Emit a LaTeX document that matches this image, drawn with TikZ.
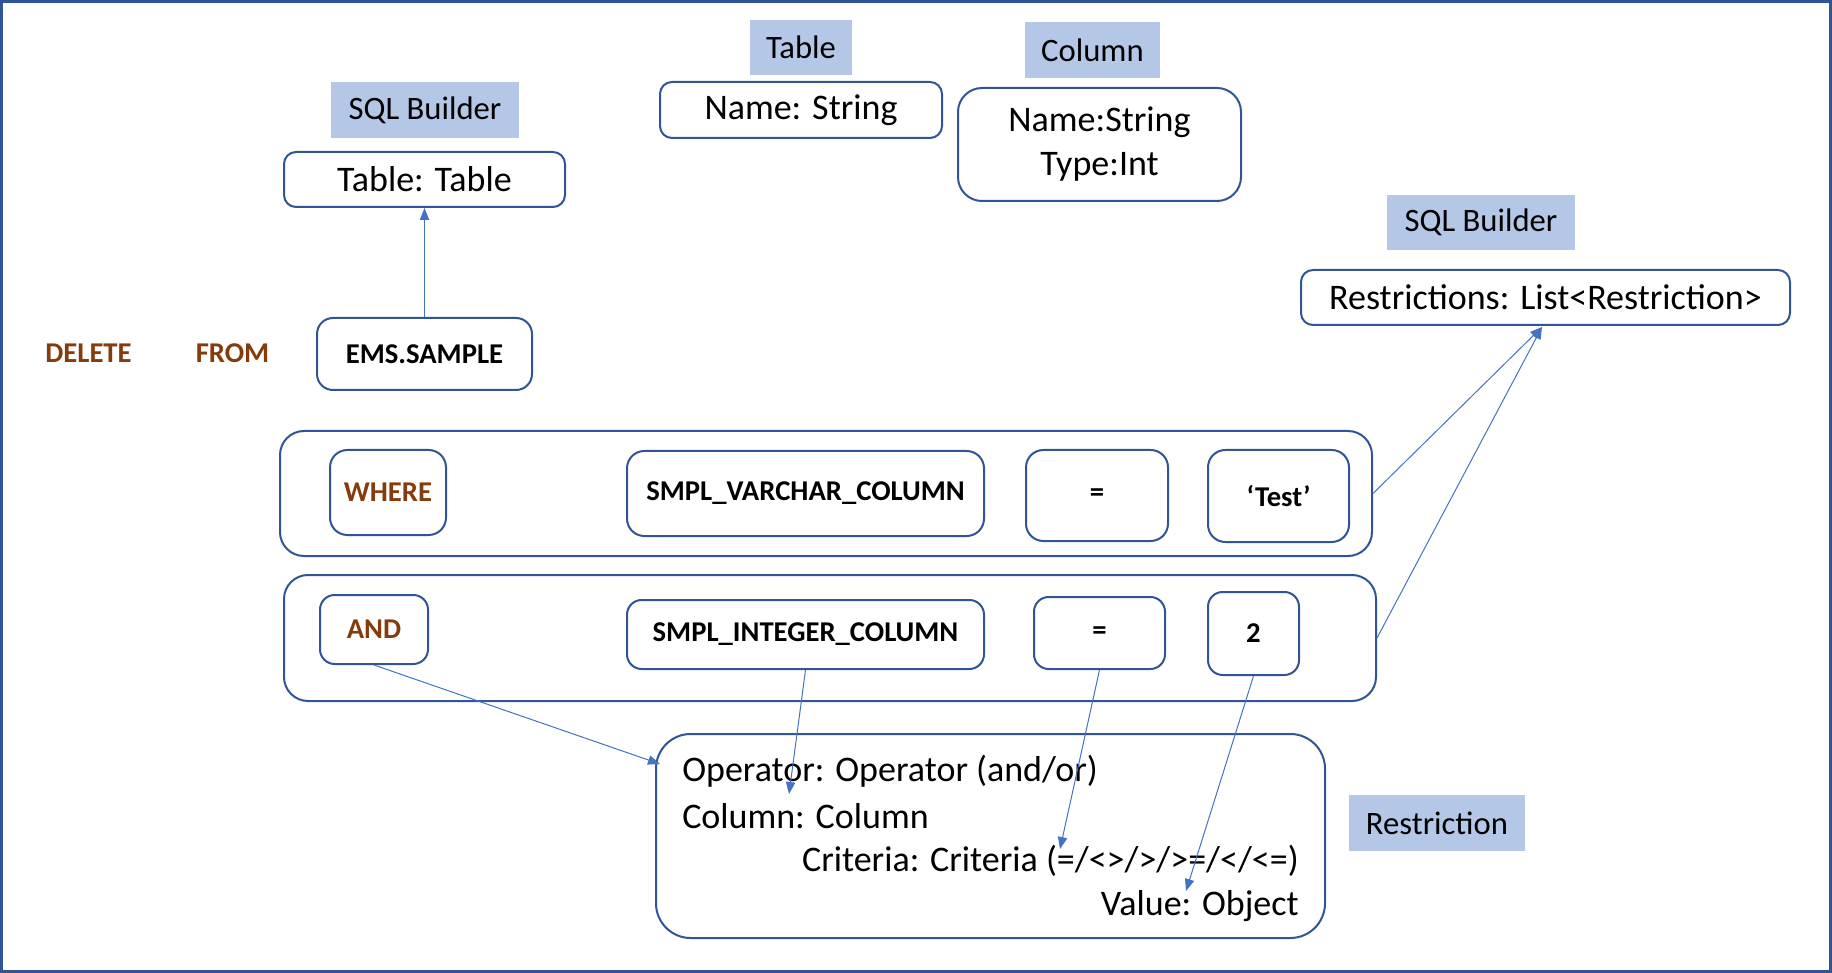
\documentclass[tikz,border=0pt]{standalone}
\usepackage{fontspec}
\setmainfont{Carlito}
\usetikzlibrary{arrows.meta}
\definecolor{boxblue}{HTML}{2F5597}
\definecolor{lblfill}{HTML}{B4C7E7}
\definecolor{arrblue}{HTML}{4472C4}
\definecolor{kw}{HTML}{843C0C}
\begin{document}
\begin{tikzpicture}[x=0.75pt,y=-0.75pt,
  wh/.style 2 args={minimum width=#1*0.75pt, minimum height=#2*0.75pt},
  box/.style={draw=boxblue, line width=1.5pt, rounded corners=9pt, inner sep=0pt, align=center},
  lbl/.style={fill=lblfill, inner sep=0pt, font=\fontsize{24.5}{29}\selectfont},
  big/.style={font=\fontsize{27}{33}\selectfont},
  sm/.style={font=\bfseries\fontsize{21.5}{25}\selectfont},
  kwtext/.style={sm, text=kw},
  link/.style={draw=arrblue, line width=0.75pt, -{Triangle[length=9pt,width=7pt]}}
]
\useasboundingbox (0,0) rectangle (1832,973);
\draw[boxblue, line width=2pt] (1.5,1.5) rectangle (1830.5,971.5);

% labels
\node[lbl, wh={102}{55}] (lblTable) at (801,47.5) {Table};
\node[lbl, wh={188}{56}] (lblSB1) at (425,110) {SQL Builder};
\node[lbl, wh={135}{56}] (lblColumn) at (1092.5,50) {Column};
\node[lbl, wh={188}{55}] (lblSB2) at (1481,222.5) {SQL Builder};
\node[lbl, wh={176}{56}] (lblRestr) at (1437,823) {Restriction};

% top boxes
\node[box, big, wh={281}{55}] (tableBox) at (424.5,179.5) {Table: Table};
\node[box, big, wh={282}{56}] (nameBox) at (801,110) {Name: String};
\node[box, big, wh={283}{113}, rounded corners=18pt] (colBox) at (1099.5,144.5) {Name:String\\Type:Int};
\node[box, big, wh={489}{55}] (restrBox) at (1545.5,297.5) {Restrictions: List<Restriction>};

% DELETE FROM
\node[kwtext] (delTxt) at (88.5,353) {DELETE};
\node[kwtext] (fromTxt) at (232.5,353) {FROM};
\node[box, sm, wh={215}{72}, rounded corners=12pt] (emsBox) at (424.5,354) {EMS.SAMPLE};

% WHERE row
\node[box, wh={1092}{125}, rounded corners=18pt] (whereCont) at (826,493.5) {};
\node[box, kwtext, wh={116}{85}, rounded corners=13pt] (whereBox) at (388,492.5) {WHERE};
\node[box, sm, wh={357}{85}, rounded corners=13pt] (varBox) at (805.5,493.5) {SMPL\_VARCHAR\_COLUMN};
\node[box, sm, wh={142}{91}, rounded corners=13pt] (eq1Box) at (1097,495.5) {=};
\node[box, sm, wh={141}{92}, rounded corners=13pt] (testBox) at (1278.5,496) {‘Test’};

% AND row
\node[box, wh={1092}{126}, rounded corners=18pt] (andCont) at (830,638) {};
\node[box, kwtext, wh={108}{69}, rounded corners=11pt] (andBox) at (374,629.5) {AND};
\node[box, sm, wh={357}{69}, rounded corners=11pt] (intBox) at (805.5,634.5) {SMPL\_INTEGER\_COLUMN};
\node[box, sm, wh={131}{72}, rounded corners=11pt] (eq2Box) at (1099.5,633) {=};
\node[box, sm, wh={91}{83}, rounded corners=11pt] (twoBox) at (1253.5,633.5) {2};

% Restriction box
\node[box, wh={669}{204}, rounded corners=26pt] (resBox) at (990.5,836) {};
\node[big, anchor=west, inner sep=0pt] (opTxt) at (682,771) {Operator: Operator (and/or)};
\node[big, anchor=west, inner sep=0pt] (colTxt) at (682,816) {Column: Column};
\node[big, anchor=east, inner sep=0pt] (critTxt) at (1299,861) {Criteria: Criteria (=/<>/>/>=/</<=)};
\node[big, anchor=east, inner sep=0pt] (valTxt) at (1299,906) {Value: Object};

% connectors
\coordinate (rtip) at (1542,327);
\coordinate (andTip) at (660,764);
\coordinate (intTip) at (789,794);
\coordinate (eqTip) at (1060,849);
\coordinate (twoTip) at (1186,891);
\draw[link] (emsBox.north) -- (tableBox.south);
\draw[link] (whereCont.east) -- (rtip);
\draw[link] (andCont.east) -- (rtip);
\draw[link] (andBox.south) -- (andTip);
\draw[link] (intBox.south) -- (intTip);
\draw[link] (eq2Box.south) -- (eqTip);
\draw[link] (twoBox.south) -- (twoTip);
\end{tikzpicture}
\end{document}
